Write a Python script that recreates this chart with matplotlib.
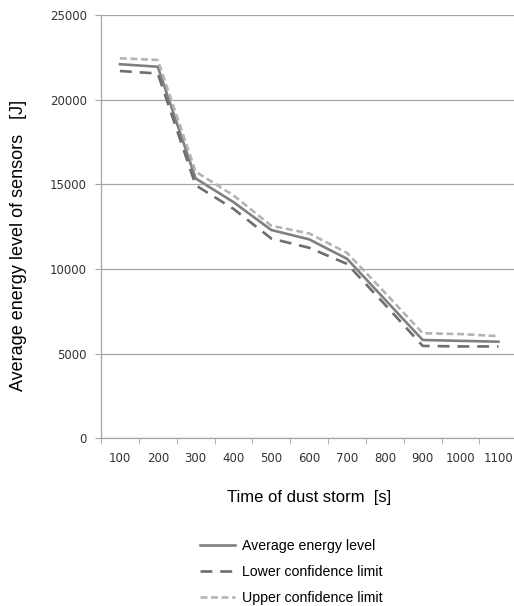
import numpy as np
import matplotlib
matplotlib.use("Agg")
import matplotlib.pyplot as plt

tempo = ["100", "200", "300", "400", "500", "600", "700", "800", "900", "1000", "1100"]
media = [22100, 21950, 15350, 13950, 12300, 11750, 10600, 8200, 5800, 5750, 5700]
inferior = [21700, 21550, 14950, 13550, 11800, 11250, 10300, 7900, 5450, 5420, 5420]
superior = [22450, 22350, 15750, 14350, 12550, 12100, 10950, 8600, 6200, 6150, 6030]

plt.rcParams["font.family"] = ["DejaVu Sans"]

fig = plt.figure(figsize=(5.14, 6.06), dpi=100)
ax = fig.add_axes([0.1965, 0.277, 0.81, 0.698])

x = np.arange(len(tempo))
ax.plot(x, media, color="#808080", lw=1.9, label="Average energy level", zorder=3)
ax.plot(x, inferior, color="#6e6e6e", lw=1.9, dashes=(4.5, 3), label="Lower confidence limit", zorder=3)
ax.plot(x, superior, color="#b4b4b4", lw=1.9, dashes=(2.6, 1.4), label="Upper confidence limit", zorder=3)

ax.set_xlim(-0.5, len(tempo) - 0.5)
ax.set_ylim(0, 25000)
ax.set_yticks(range(0, 25001, 5000))
ax.yaxis.grid(True, color="#a6a6a6", lw=0.9)
ax.set_axisbelow(True)

ax.set_xticks(x)
ax.set_xticklabels(tempo)
ax.set_xticks(np.arange(-0.5, len(tempo), 1.0), minor=True)
ax.tick_params(axis="x", which="major", length=0, pad=10, labelsize=8.5, colors="#333333")
ax.tick_params(axis="x", which="minor", length=4, color="#a6a6a6", direction="out")
ax.tick_params(axis="y", length=4, color="#a6a6a6", labelsize=8.5, labelcolor="#333333", pad=6)

for s in ["top", "right"]:
    ax.spines[s].set_visible(False)
for s in ["left", "bottom"]:
    ax.spines[s].set_color("#a6a6a6")
    ax.spines[s].set_linewidth(0.9)

ax.set_ylabel("Average energy level of sensors   [J]", fontsize=13, family="Liberation Sans")
ax.yaxis.set_label_coords(-0.178, 0.455)
ax.set_xlabel("Time of dust storm  [s]", fontsize=12, family="Liberation Sans", labelpad=18)

fig.legend(loc="upper left", bbox_to_anchor=(0.364, 0.132), frameon=False,
           handlelength=2.5, labelspacing=0.85, handletextpad=0.5,
           prop={"family": "Liberation Sans", "size": 10.2})

fig.savefig("out.png", dpi=100)
